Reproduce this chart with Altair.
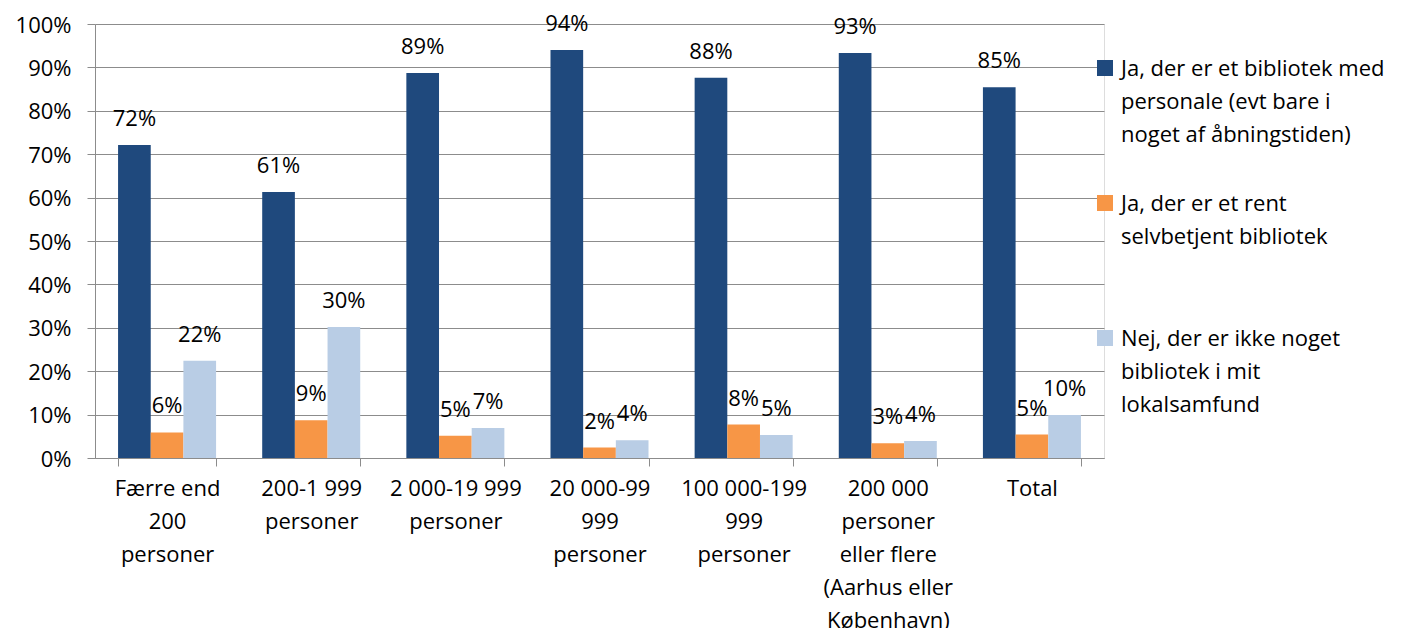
import altair as alt
import pandas as pd

categories = [
    "Færre end|200|personer",
    "200-1 999|personer",
    "2 000-19 999|personer",
    "20 000-99|999|personer",
    "100 000-199|999|personer",
    "200 000|personer|eller flere|(Aarhus eller|København)",
    "Total",
]
series = [
    "Ja, der er et bibliotek med|personale (evt  bare i|noget af åbningstiden)",
    "Ja, der er et rent|selvbetjent bibliotek| ",
    "Nej, der er ikke noget|bibliotek i mit|lokalsamfund",
]
colors = ["#1F497D", "#F79646", "#B9CDE5"]

med_personale = [0.721, 0.613, 0.887, 0.940, 0.876, 0.933, 0.854]
selvbetjent = [0.059, 0.087, 0.051, 0.024, 0.077, 0.034, 0.054]
intet = [0.224, 0.302, 0.069, 0.041, 0.053, 0.039, 0.099]

rows = []
for vals, s in zip([med_personale, selvbetjent, intet], series):
    for c, v in zip(categories, vals):
        rows.append({"kategori": c, "serie": s, "value": v})
df = pd.DataFrame(rows)

FONT = "Open Sans"
FS = 22
GRAY = "#8C8C8C"
LABEL_DY = -9

base = alt.Chart(df).encode(
    x=alt.X(
        "kategori:N",
        sort=categories,
        scale=alt.Scale(paddingInner=0.32, paddingOuter=0.16),
        axis=alt.Axis(
            title=None,
            labelAngle=0,
            labelExpr="split(datum.label, '|')",
            labelLineHeight=33,
            labelFontSize=FS,
            labelFont=FONT,
            labelColor="black",
            labelBaseline="top",
            labelPadding=12 - LABEL_DY,
            labelLimit=0,
            tickBand="extent",
            tickSize=8,
            tickColor=GRAY,
            domainColor=GRAY,
            grid=False,
        ),
    ),
    xOffset=alt.XOffset("serie:N", sort=series,
                        scale=alt.Scale(paddingInner=0, paddingOuter=0)),
)

bars = base.mark_bar().encode(
    y=alt.Y(
        "value:Q",
        scale=alt.Scale(domain=[0, 1], nice=False),
        axis=alt.Axis(
            title=None,
            format=".0%",
            values=[i / 10 for i in range(11)],
            labelFontSize=FS,
            labelFont=FONT,
            labelColor="black",
            labelPadding=16,
            labelOffset=1 - LABEL_DY,
            tickSize=8,
            tickColor=GRAY,
            domainColor=GRAY,
            gridColor=GRAY,
            gridWidth=1,
        ),
    ),
    color=alt.Color(
        "serie:N",
        sort=series,
        scale=alt.Scale(domain=series, range=colors),
        legend=alt.Legend(
            title=None,
            orient="none",
            legendX=999,
            legendY=33,
            padding=0,
            labelExpr="split(datum.label, '|')",
            labelFont=FONT,
            labelFontSize=FS,
            labelColor="black",
            labelBaseline="top",
            labelOffset=5,
            labelLimit=0,
            symbolType="square",
            symbolSize=256,
            symbolStrokeWidth=0,
            symbolOpacity=1,
            rowPadding=46,
        ),
    ),
)

text = base.mark_text(baseline="bottom", dy=-14, fontSize=FS, font=FONT, color="black").encode(
    y=alt.Y("value:Q"),
    text=alt.Text("value:Q", format=".0%"),
)

chart = (
    alt.layer(bars, text)
    .properties(
        width=1009,
        height=434,
        autosize=alt.AutoSizeParams(type="none"),
        padding={"left": 87, "top": 16, "right": 290, "bottom": 170},
    )
    .configure_view(stroke=None)
    .configure(font=FONT, style={"guide-label": {"lineHeight": 33, "dy": LABEL_DY}})
)

chart.save("out.html", embed_options={"renderer": "svg", "actions": False})
